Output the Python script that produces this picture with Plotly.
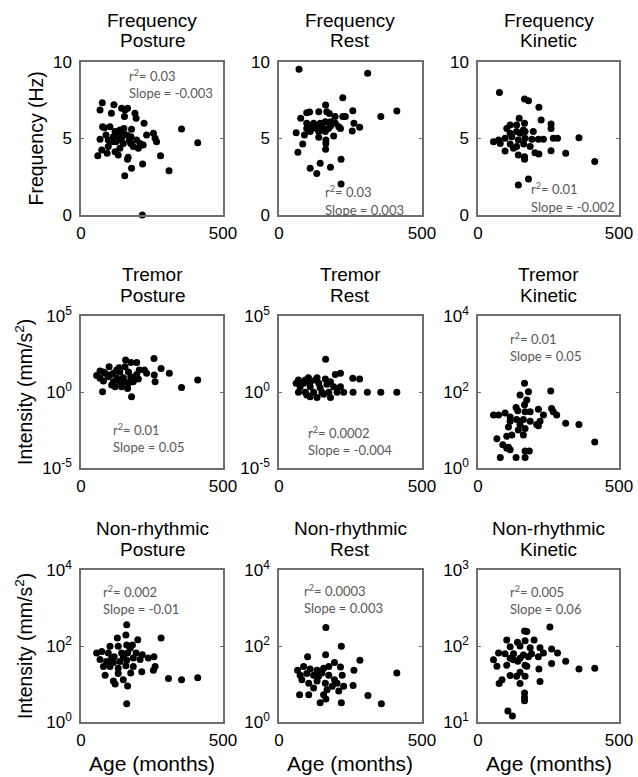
import plotly.graph_objects as go

W, H = 638, 777

# ---------------- data ----------------
age_freq_posture = [75,67,116,107,143,155,164,153,190,194,222,82,102,120,137,151,178,88,114,131,143,161,176,196,67,96,123,149,175,208,219,231,255,261,266,354,411,73,92,120,137,59,131,166,202,164,280,178,217,154,310,216,108,131,184,96,170,143,76]
freq_posture = [7.34,6.86,7.2,6.65,6.97,6.86,6.97,6.43,6.65,6.32,5.99,5.7,5.77,5.45,5.56,5.66,5.6,5.23,5.12,5.23,5.05,5.23,5.12,4.9,4.95,4.9,4.79,4.68,4.68,4.68,4.58,5.23,5.34,5.01,4.79,5.62,4.73,4.25,4.03,4.14,4.36,3.88,3.92,3.77,4.36,3.64,3.88,3.05,3.33,2.57,2.9,0,4.79,4.9,4.47,4.47,4.9,5.45,5.77]

age_freq_rest = [70,310,223,163,107,97,139,167,176,76,196,223,232,258,356,412,97,121,144,162,180,197,97,115,133,156,173,209,262,282,256,215,109,139,162,89,191,60,139,164,164,83,66,163,217,109,144,132,180,217,121,150,180,109]
freq_rest = [9.52,9.26,7.67,7.19,6.73,6.69,6.75,6.75,6.64,6.32,6.43,6.43,6.43,6.82,6.43,6.8,5.99,5.99,5.99,6.1,6.1,5.99,5.66,5.66,5.66,5.66,5.66,5.77,5.99,5.73,5.49,5.66,5.45,5.45,5.45,5.23,5.16,5.38,5.08,4.9,4.68,4.64,4.1,4.29,3.64,3.05,3.38,2.72,3.12,2.03,5.77,5.82,5.82,5.82]

age_freq_kinetic = [76,165,179,216,146,224,259,259,102,114,137,165,196,114,167,55,73,96,120,143,167,191,214,232,267,282,358,79,114,137,162,185,96,126,143,165,165,202,216,259,311,414,143,179,149,161,137]
freq_kinetic = [8.0,7.58,7.47,7.04,6.32,6.21,5.95,5.66,5.66,5.88,5.88,5.99,5.45,5.34,5.45,4.79,4.9,5.01,5.12,4.9,5.01,4.95,4.95,4.95,5.01,5.01,5.05,4.68,4.64,4.47,4.64,4.47,4.18,4.36,3.92,3.81,3.64,4.07,3.99,4.2,4.03,3.49,1.96,2.35,5.34,5.56,5.45]

age_tremor_posture = [257,157,176,196,282,99,134,155,67,205,223,311,411,55,85,114,137,167,196,231,258,67,96,126,149,175,202,261,79,114,137,167,120,143,164,354,76,178,102,126,108,155,178,79,184]
tremor_posture = [162,126,87,87,35,46,39,46,24,28,28,17,6.2,12,17,17,21,21,14,17,13,7.9,10,7.9,8.7,10,7.1,4.8,5.2,4.8,4.8,3.7,2.2,2.2,1.7,2.0,1.05,0.49,13,28,2.9,4.8,7.1,21,4.8]

age_tremor_rest = [163,215,197,258,282,68,103,133,162,180,60,86,109,139,168,191,215,74,109,144,68,92,121,150,174,203,226,259,309,356,412,109,133,180,97,156,203,127,92]
tremor_rest = [145,17,14,7.9,7.1,6.2,8.7,8.7,7.1,4.8,3.7,3.7,4.3,3.7,3.2,2.2,2.2,2.2,2.2,1.9,0.95,0.95,0.95,0.95,0.95,0.95,0.95,0.95,0.95,0.95,0.95,0.49,0.43,0.43,0.63,0.71,1.7,6.2,6.2]

age_tremor_kinetic = [165,149,179,258,165,135,55,73,96,114,141,167,185,214,232,261,279,311,358,414,114,137,161,185,208,220,108,149,167,161,120,102,67,88,108,114,102,167,182,79,135,167,173,267,214,143]
tremor_kinetic = [170,83,102,107,46,39,25,25,28,22,32,30,30,35,25,37,25,15,14,4.8,17,19,19,17,14,17,12,14,11,7.4,7.4,6.8,5.9,4.1,3.5,3.0,3.3,2.8,2.8,1.9,1.9,1.9,62,30,13,10]

age_nr_posture = [161,158,200,282,128,102,131,181,161,55,73,96,117,143,164,194,216,257,67,90,114,137,161,184,208,237,79,102,131,158,184,214,261,85,131,175,255,114,120,149,164,308,354,411,161,149,173,108]
nr_posture = [363,195,145,162,162,98,98,107,107,65,72,65,52,65,65,65,59,52,44,39,37,39,42,48,44,48,29,29,26,30,29,21,29,17,19,19.5,23,12,10,13,8.9,14,13,14.5,3.0,52,87,48]

age_nr_rest = [164,218,163,100,283,194,412,65,86,109,133,156,174,215,262,74,97,121,150,174,194,221,80,104,133,162,203,259,226,72,104,156,164,144,218,311,358,209,121,138,186,168]
nr_rest = [309,98,59,52,42,37,19.5,23,29,25,23,26,29,28,23,17,19,17,19.5,17,13,17,13,10.5,12,10.5,10.5,9.1,8.7,5.2,5.2,5.2,4.0,3.2,3.2,5.0,3.0,6.5,7.8,16,8.7,7.1]

age_nr_kinetic = [255,165,173,102,140,167,199,114,149,185,220,261,73,96,126,161,190,232,282,55,114,149,179,214,67,102,141,167,261,311,358,414,216,149,114,137,167,85,75,149,220,165,165,165,106,122,173,126]
nr_kinetic = [178,158,155,120,112,117,120,98,100,95,95,91,81,79,79,76,79,81,81,66,69,69,72,72,54,56,63,56,59,63,50,51,50,45,41,40,40,36,32,32,34,24,21,19,14,12,54,66]

row_titles = ["Frequency", "Tremor", "Non-rhythmic"]
col_titles = ["Posture", "Rest", "Kinetic"]
r2_labels = [["0.03", "0.03", "0.01"], ["0.01", "0.0002", "0.01"], ["0.002", "0.0003", "0.005"]]
slope_labels = [["-0.003", "0.003", "-0.002"], ["0.05", "-0.004", "0.05"], ["-0.01", "0.003", "0.06"]]
ylabels = ["Frequency (Hz)", "Intensity (mm/s<sup>2</sup>)", "Intensity (mm/s<sup>2</sup>)"]
x_ticks = [0, 500]

series = [[(age_freq_posture, freq_posture), (age_freq_rest, freq_rest), (age_freq_kinetic, freq_kinetic)],
          [(age_tremor_posture, tremor_posture), (age_tremor_rest, tremor_rest), (age_tremor_kinetic, tremor_kinetic)],
          [(age_nr_posture, nr_posture), (age_nr_rest, nr_rest), (age_nr_kinetic, nr_kinetic)]]

def pw(e):
    return "10<sup>%d</sup>" % e

yspecs = [[("linear", [0, 10], [0, 5, 10], ["0", "5", "10"])] * 3,
          [("log", [-5, 5], [1e-5, 1, 1e5], [pw(-5), pw(0), pw(5)]),
           ("log", [-5, 5], [1e-5, 1, 1e5], [pw(-5), pw(0), pw(5)]),
           ("log", [0, 4], [1, 100, 1e4], [pw(0), pw(2), pw(4)])],
          [("log", [0, 4], [1, 100, 1e4], [pw(0), pw(2), pw(4)]),
           ("log", [0, 4], [1, 100, 1e4], [pw(0), pw(2), pw(4)]),
           ("log", [1, 3], [10, 100, 1000], [pw(1), pw(2), pw(3)])]]

# ---------------- layout geometry (pixels) ----------------
cols_px = [(81, 223), (279, 422), (478, 619)]
rows_px = [(62, 215), (316, 468), (570, 722)]
stat_pos = [[(127, 75), (323, 192), (529, 189)],
            [(111, 429), (306, 432), (508, 338)],
            [(101, 591), (302, 590), (508, 591)]]

def px(x):
    return x / W

def py(y):
    return 1 - y / H

MAIN_FONT = "Liberation Sans, Arial, sans-serif"
STAT_FONT = "Lato, Open Sans, sans-serif"
AX_COLOR = "#6e6e6e"

fig = go.Figure()
layout = dict(width=W, height=H, margin=dict(l=0, r=0, t=0, b=0, autoexpand=False),
              template="none",
              plot_bgcolor="white", paper_bgcolor="white", showlegend=False,
              font=dict(family=MAIN_FONT, color="black", size=17))
annotations = []

def ann(x, y, text, size, family=MAIN_FONT, color="black", xanchor="center", angle=0):
    return dict(x=px(x), y=py(y), xref="paper", yref="paper", text=text, showarrow=False,
                xanchor=xanchor, yanchor="middle", textangle=angle,
                font=dict(family=family, size=size, color=color))

for r in range(3):
    for c in range(3):
        k = r * 3 + c + 1
        xa = "x" if k == 1 else "x%d" % k
        ya = "y" if k == 1 else "y%d" % k
        ages, vals = series[r][c]
        fig.add_trace(go.Scatter(x=ages, y=vals, mode="markers", xaxis=xa, yaxis=ya,
                                 marker=dict(color="black", size=7, line=dict(width=0)),
                                 cliponaxis=False, hoverinfo="skip"))
        x0, x1 = cols_px[c]
        ytop, ybot = rows_px[r]
        common = dict(showgrid=False, zeroline=False, showline=True, mirror="ticks",
                      linecolor=AX_COLOR, linewidth=1.5, ticks="inside", ticklen=3,
                      tickcolor=AX_COLOR, automargin=False,
                      tickfont=dict(family=MAIN_FONT, size=17, color="black"))
        layout["xaxis" if k == 1 else "xaxis%d" % k] = dict(
            domain=[px(x0), px(x1)], anchor=ya, range=[0, 500], tickvals=x_ticks,
            ticktext=[str(v) for v in x_ticks], ticklabelstandoff=2, **common)
        t, rng, tv, tt = yspecs[r][c]
        layout["yaxis" if k == 1 else "yaxis%d" % k] = dict(
            domain=[py(ybot), py(ytop)], anchor=xa, type=t, range=rng, tickvals=tv,
            ticktext=tt, ticklabelstandoff=4, **common)
        xc = (x0 + x1) / 2
        annotations.append(ann(xc, ytop - 42, row_titles[r], 19))
        annotations.append(ann(xc, ytop - 21, col_titles[c], 19))
        sx, sy = stat_pos[r][c]
        annotations.append(ann(sx, sy, "r<sup>2</sup>= " + r2_labels[r][c], 13,
                               STAT_FONT, "#595959", "left"))
        annotations.append(ann(sx, sy + 18, "Slope = " + slope_labels[r][c], 13,
                               STAT_FONT, "#595959", "left"))

ylab_x = [35, 24, 24]
for r in range(3):
    ytop, ybot = rows_px[r]
    annotations.append(ann(ylab_x[r], (ytop + ybot) / 2, ylabels[r], 19.5, angle=-90))
for c in range(3):
    x0, x1 = cols_px[c]
    annotations.append(ann((x0 + x1) / 2, 763, "Age (months)", 21))

layout["annotations"] = annotations
fig.update_layout(**layout)
fig.write_html("out.html")
